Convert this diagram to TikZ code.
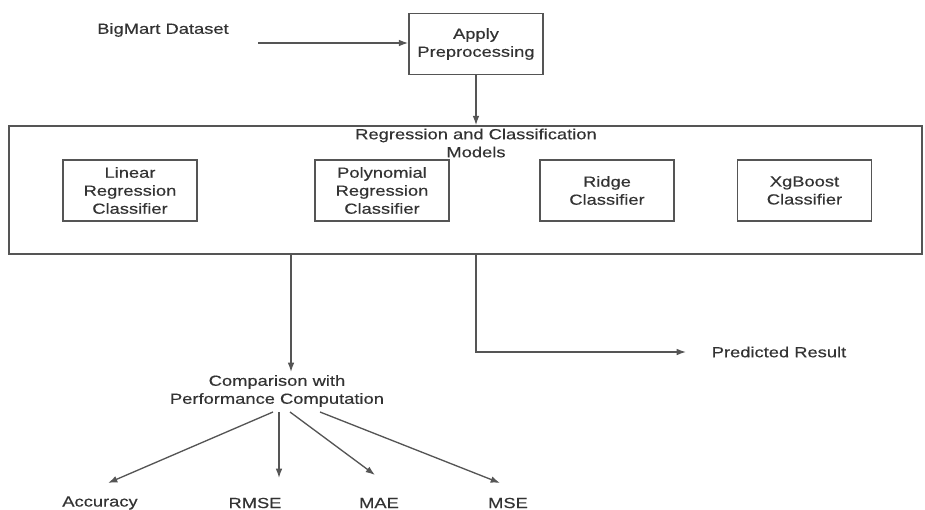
\documentclass[tikz,border=0pt]{standalone}
\usepackage{fontspec}
\setmainfont{Liberation Sans}[FakeStretch=1.25,FakeBold=0.4]
\usetikzlibrary{arrows.meta,calc}
\definecolor{ink}{HTML}{333333}
\definecolor{edge}{HTML}{555555}
\tikzset{
  x=0.75pt,y=-0.75pt,
  every node/.style={font=\fontsize{11pt}{13.5pt}\selectfont,text=ink,align=center,inner sep=0pt},
  boxn/.style={draw=edge,line width=1.2pt,minimum width=100.5pt,minimum height=45.75pt},
  conn/.style={draw=edge,line width=1pt,-{Latex[length=7pt,width=5pt]}},
}
\begin{document}
\begin{tikzpicture}
\useasboundingbox (0,0) rectangle (925,510);
\node (data) at (163,30) {BigMart Dataset};
\coordinate (dstart) at (258,43);
\node[boxn] (prep) at (476,44) {Apply\\Preprocessing};
\node[draw=edge,line width=1.2pt,minimum width=684.75pt,minimum height=96pt] (big) at (465.5,190) {};
\node (title) at (476,143) {Regression and Classification\\Models};
\node[boxn] (lin) at (130,190.5) {Linear\\Regression\\Classifier};
\node[boxn] (poly) at (382,190.5) {Polynomial\\Regression\\Classifier};
\node[boxn] (ridge) at (607,190.5) {Ridge\\Classifier};
\node[boxn] (xg) at (804.5,190.5) {XgBoost\\Classifier};
\node (comp) at (277,391) {Comparison with\\Performance Computation};
\node (pred) at (779,352) {Predicted Result};
\node (acc) at (100,503) {Accuracy};
\node (rmse) at (255,503) {RMSE};
\node (mae) at (379,503) {MAE};
\node (mse) at (508,503) {MSE};
\coordinate (c1) at (291,254);
\coordinate (c2) at (476,254);
\coordinate (c3) at (476,352);
\coordinate (ctip) at (291,372);
\coordinate (ptip) at (686,352);
\coordinate (o1) at (273,412);
\coordinate (o2) at (279,412);
\coordinate (o3) at (290,412);
\coordinate (o4) at (320,412);
\coordinate (t1) at (108,483);
\coordinate (t2) at (279,478);
\coordinate (t3) at (375,475);
\coordinate (t4) at (500,483);
\draw[conn] (dstart) -- (prep.west |- dstart);
\draw[conn] (prep.south) -- (prep.south |- big.north);
\draw[conn] (big.south -| c1) -- (ctip);
\draw[conn] (big.south -| c2) -- (c3) -- (ptip);
\draw[conn] (o1) -- (t1);
\draw[conn] (o2) -- (t2);
\draw[conn] (o3) -- (t3);
\draw[conn] (o4) -- (t4);
\end{tikzpicture}
\end{document}
